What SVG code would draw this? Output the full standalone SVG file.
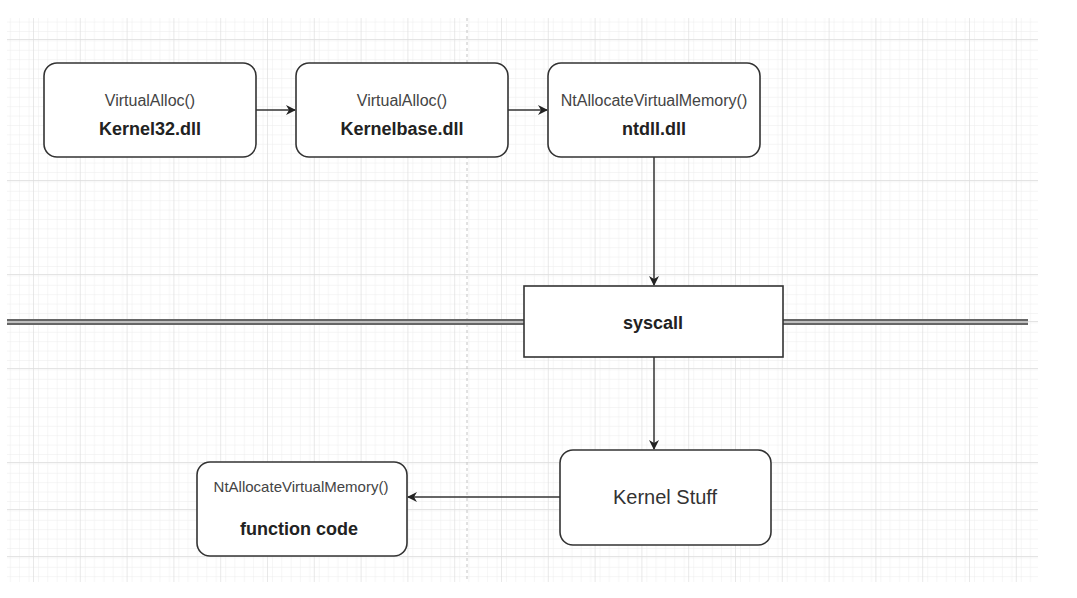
<svg xmlns="http://www.w3.org/2000/svg" width="1077" height="598" viewBox="0 0 1077 598">
<defs>
<pattern id="minor" patternUnits="userSpaceOnUse" x="33" y="39" width="9.36" height="9.4">
<path d="M0 0V9.4M0 0H9.36" fill="none" stroke="#ececec" stroke-width="1"/>
</pattern>
<pattern id="major" patternUnits="userSpaceOnUse" x="33" y="39" width="46.8" height="47">
<rect width="46.8" height="47" fill="url(#minor)"/>
<path d="M0 0V47M0 0H46.8" fill="none" stroke="#dcdcdc" stroke-width="1.3"/>
</pattern>
<marker id="arr" viewBox="0 0 10 10" refX="9" refY="5" markerWidth="10" markerHeight="10" markerUnits="userSpaceOnUse" orient="auto">
<path d="M0 0L10 5L0 10L3 5Z" fill="#222"/>
</marker>
<style>
.box{fill:#fff;stroke:#333;stroke-width:1.6}
.sm{font-family:"Liberation Sans",Arial,sans-serif;font-size:16px;fill:#444;text-anchor:middle}
.bd{font-family:"Liberation Sans",Arial,sans-serif;font-size:18px;font-weight:bold;fill:#222;text-anchor:middle}
.conn{fill:none;stroke:#333;stroke-width:1.5}
</style>
</defs>
<rect width="1077" height="598" fill="#fff"/>
<rect x="7" y="18" width="1031" height="564" fill="url(#major)"/>
<line x1="467" y1="18" x2="467" y2="582" stroke="#c4c4c4" stroke-width="1" stroke-dasharray="3 3"/>
<g id="boundary">
<path d="M7 322H524M783 322H1028" fill="none" stroke="#666" stroke-width="6"/>
<path d="M7 322H524M783 322H1028" fill="none" stroke="#ddd" stroke-width="1.5"/>
</g>
<g id="connectors">
<line class="conn" x1="256" y1="110" x2="295" y2="110" marker-end="url(#arr)"/>
<line class="conn" x1="508" y1="110" x2="547" y2="110" marker-end="url(#arr)"/>
<line class="conn" x1="654" y1="157" x2="654" y2="285" marker-end="url(#arr)"/>
<line class="conn" x1="654" y1="357" x2="654" y2="449" marker-end="url(#arr)"/>
<line class="conn" x1="560" y1="497" x2="408" y2="497" marker-end="url(#arr)"/>
</g>
<g id="kernel32">
<rect class="box" x="44" y="63" width="212" height="94" rx="13"/>
<text class="sm" x="150" y="106">VirtualAlloc()</text>
<text class="bd" x="150" y="135">Kernel32.dll</text>
</g>
<g id="kernelbase">
<rect class="box" x="296" y="63" width="212" height="94" rx="13"/>
<text class="sm" x="402" y="106">VirtualAlloc()</text>
<text class="bd" x="402" y="135">Kernelbase.dll</text>
</g>
<g id="ntdll">
<rect class="box" x="548" y="63" width="212" height="94" rx="13"/>
<text class="sm" x="654" y="106">NtAllocateVirtualMemory()</text>
<text class="bd" x="654" y="135">ntdll.dll</text>
</g>
<g id="syscall">
<rect class="box" x="524" y="286" width="259" height="71"/>
<text class="bd" x="653" y="329">syscall</text>
</g>
<g id="kernelstuff">
<rect class="box" x="560" y="450" width="211" height="95" rx="13"/>
<text class="sm" x="665" y="504" style="font-size:20px;fill:#333">Kernel Stuff</text>
</g>
<g id="functioncode">
<rect class="box" x="197" y="462" width="210" height="94" rx="13"/>
<text class="sm" x="301" y="492" style="font-size:15px">NtAllocateVirtualMemory()</text>
<text class="bd" x="299" y="535">function code</text>
</g>
</svg>
